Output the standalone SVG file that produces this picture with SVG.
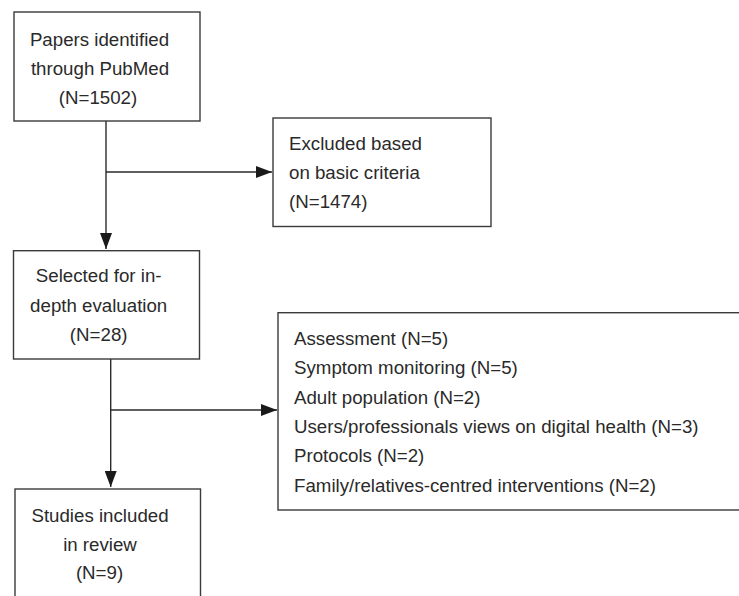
<svg xmlns="http://www.w3.org/2000/svg" width="739" height="596" viewBox="0 0 739 596">
<style>
.box{fill:#fff;stroke:#3a3a3a;stroke-width:1.4}
.t{font-family:"Liberation Sans",Arial,sans-serif;font-size:18.7px;fill:#2a2a2a}
.c{text-anchor:middle}
.ln{fill:none;stroke:#2a2a2a;stroke-width:1.4}
</style>
<defs>
<marker id="ah" markerWidth="16" markerHeight="12" refX="16" refY="6" orient="auto" markerUnits="userSpaceOnUse">
<path d="M0,0 L16,6 L0,12 Z" fill="#1a1a1a"/>
</marker>
</defs>
<rect width="739" height="596" fill="#fff"/>
<g id="connectors">
<line class="ln" x1="106" y1="121" x2="106" y2="249" marker-end="url(#ah)"/>
<line class="ln" x1="106" y1="172" x2="272" y2="172" marker-end="url(#ah)"/>
<line class="ln" x1="110.7" y1="359" x2="110.7" y2="487" marker-end="url(#ah)"/>
<line class="ln" x1="110.7" y1="410" x2="277" y2="410" marker-end="url(#ah)"/>
</g>
<g id="n1">
<rect class="box" x="14" y="12" width="186" height="109"/>
<text class="t c" x="99.5" y="45.5">Papers identified</text>
<text class="t c" x="100" y="74.5">through PubMed</text>
<text class="t c" x="98" y="103.5">(N=1502)</text>
</g>
<g id="n2">
<rect class="box" x="273" y="118" width="218" height="108.5"/>
<text class="t" x="289" y="150">Excluded based</text>
<text class="t" x="289" y="179">on basic criteria</text>
<text class="t" x="289" y="208">(N=1474)</text>
</g>
<g id="n3">
<rect class="box" x="13.5" y="250.7" width="186" height="108.3"/>
<text class="t c" x="98.7" y="282">Selected for in-</text>
<text class="t c" x="98.7" y="311.5">depth evaluation</text>
<text class="t c" x="98.7" y="341">(N=28)</text>
</g>
<g id="n4">
<rect class="box" x="278" y="312.7" width="470" height="197.3"/>
<text class="t" x="294" y="345">Assessment (N=5)</text>
<text class="t" x="294" y="374">Symptom monitoring (N=5)</text>
<text class="t" x="294" y="403.5">Adult population (N=2)</text>
<text class="t" x="294" y="433">Users/professionals views on digital health (N=3)</text>
<text class="t" x="294" y="462">Protocols (N=2)</text>
<text class="t" x="294" y="491.5">Family/relatives-centred interventions (N=2)</text>
</g>
<g id="n5">
<rect class="box" x="15" y="489" width="185.5" height="120"/>
<text class="t c" x="100" y="521.5">Studies included</text>
<text class="t c" x="100" y="550.5">in review</text>
<text class="t c" x="99.5" y="579">(N=9)</text>
</g>
</svg>
